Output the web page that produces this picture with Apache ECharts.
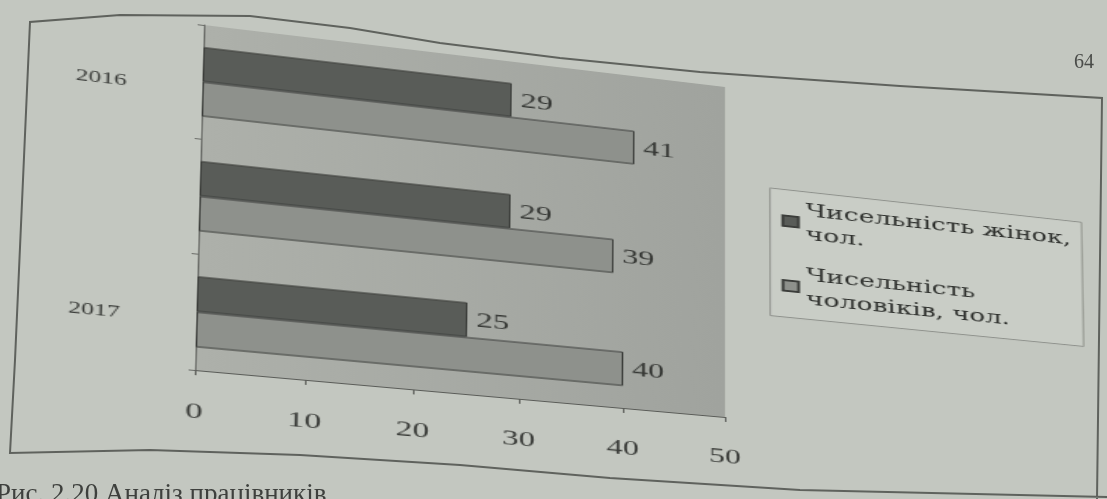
<!DOCTYPE html>
<html>
<head>
<meta charset="utf-8">
<script src="https://cdn.jsdelivr.net/npm/echarts@6/dist/echarts.min.js"></script>
<style>
  html, body { margin: 0; padding: 0; width: 1107px; height: 499px; overflow: hidden; background: #c3c7c0; }
  #page, #chart { position: absolute; left: 0; top: 0; width: 1107px; height: 499px; }
  #chart { transform-origin: 0 0; }
</style>
</head>
<body>
<div id="page"></div>
<div id="chart"></div>
<script>
// ---- data ----
const categories = ['2016', '', '2017'];
const women = [29, 29, 25];
const men = [41, 39, 40];
const seriesNames = ['Чисельність жінок, чол.', 'Чисельність чоловіків, чол.'];
const legendText = {
  'Чисельність жінок, чол.': 'Чисельність жінок,\nчол.',
  'Чисельність чоловіків, чол.': 'Чисельність\nчоловіків, чол.'
};
const axisMin = 0, axisMax = 50, axisStep = 10;
const pageNumber = '64';
const caption = 'Рис. 2.20 Аналіз працівників';

const SERIF = "'Liberation Serif', 'DejaVu Serif', serif";
const WIDE_SERIF = "'DejaVu Serif', 'Liberation Serif', serif";

// ---- flat layout of the plot and where it lands on the tilted page ----
const G = { left: 200, top: 40, width: 350, height: 345 };
const flatQuad = [[G.left, G.top], [G.left + G.width, G.top],
                  [G.left + G.width, G.top + G.height], [G.left, G.top + G.height]];
const pageQuad = [[204, 25], [725, 87], [725, 417], [195, 370]];

function solve(A, b) {
  const n = b.length;
  for (let i = 0; i < n; i++) {
    let p = i;
    for (let r = i + 1; r < n; r++) if (Math.abs(A[r][i]) > Math.abs(A[p][i])) p = r;
    [A[i], A[p]] = [A[p], A[i]]; [b[i], b[p]] = [b[p], b[i]];
    for (let r = i + 1; r < n; r++) {
      const f = A[r][i] / A[i][i];
      for (let c = i; c < n; c++) A[r][c] -= f * A[i][c];
      b[r] -= f * b[i];
    }
  }
  const x = new Array(n).fill(0);
  for (let i = n - 1; i >= 0; i--) {
    let s = b[i];
    for (let c = i + 1; c < n; c++) s -= A[i][c] * x[c];
    x[i] = s / A[i][i];
  }
  return x;
}
function homography(src, dst) {
  const A = [], b = [];
  for (let i = 0; i < 4; i++) {
    const [x, y] = src[i], [X, Y] = dst[i];
    A.push([x, y, 1, 0, 0, 0, -x * X, -y * X]); b.push(X);
    A.push([0, 0, 0, x, y, 1, -x * Y, -y * Y]); b.push(Y);
  }
  const h = solve(A, b);
  return [[h[0], h[1], h[2]], [h[3], h[4], h[5]], [h[6], h[7], 1]];
}
function invert3(m) {
  const [a, b, c] = m[0], [d, e, f] = m[1], [g, h, i] = m[2];
  const A = e * i - f * h, B = -(d * i - f * g), C = d * h - e * g;
  const det = a * A + b * B + c * C;
  return [[A / det, -(b * i - c * h) / det, (b * f - c * e) / det],
          [B / det, (a * i - c * g) / det, -(a * f - c * d) / det],
          [C / det, -(a * h - b * g) / det, (a * e - b * d) / det]];
}
function apply(m, x, y) {
  const w = m[2][0] * x + m[2][1] * y + m[2][2];
  return [(m[0][0] * x + m[0][1] * y + m[0][2]) / w, (m[1][0] * x + m[1][1] * y + m[1][2]) / w];
}

const H = homography(flatQuad, pageQuad);
const chartEl = document.getElementById('chart');
chartEl.style.transform = 'matrix3d(' + [
  H[0][0], H[1][0], 0, H[2][0],
  H[0][1], H[1][1], 0, H[2][1],
  0, 0, 1, 0,
  H[0][2], H[1][2], 0, H[2][2]
].join(',') + ')';
const Hinv = invert3(H);
const legendPos = apply(Hinv, 770, 188);

// ---- page: frame of the figure, page number, caption ----
const page = echarts.init(document.getElementById('page'));
page.setOption({
  backgroundColor: 'transparent',
  graphic: [
    {
      type: 'polyline',
      shape: {
        points: [[1097, 499], [1102, 98], [900, 86], [700, 72], [560, 58], [440, 43],
                 [350, 28], [250, 16], [120, 15], [30, 22], [15, 360], [10, 453],
                 [150, 450], [300, 455], [460, 465], [610, 478], [800, 490], [1107, 497]]
      },
      style: { stroke: '#5f625d', lineWidth: 2, fill: null }
    },
    {
      type: 'text', left: 1074, top: 53,
      style: { text: pageNumber, font: '20px ' + SERIF, fill: '#4a4c49' }
    },
    {
      type: 'text', left: -4, top: 481,
      style: { text: caption, font: '27px ' + SERIF, fill: '#3e403d' }
    }
  ]
});

// ---- chart ----
const chart = echarts.init(chartEl);
chart.setOption({
  backgroundColor: 'transparent',
  animation: false,
  grid: {
    left: G.left, top: G.top, width: G.width, height: G.height,
    show: true, borderWidth: 0,
    backgroundColor: new echarts.graphic.LinearGradient(0, 0, 1, 0, [
      { offset: 0, color: '#adb0aa' }, { offset: 1, color: '#a0a39e' }
    ])
  },
  legend: {
    orient: 'vertical',
    left: legendPos[0], top: legendPos[1],
    data: seriesNames,
    icon: 'rect', itemWidth: 11, itemHeight: 11, itemGap: 18,
    padding: [8, 8, 8, 8],
    backgroundColor: '#c9cdc6', borderColor: '#8c8f8a', borderWidth: 1,
    formatter: name => legendText[name],
    textStyle: { fontFamily: WIDE_SERIF, fontSize: 19, lineHeight: 25, color: '#2e302d' }
  },
  xAxis: {
    type: 'value', min: axisMin, max: axisMax, interval: axisStep,
    axisLine: { show: true, lineStyle: { color: '#5a5c58', width: 1 } },
    axisTick: { show: true, length: 5, lineStyle: { color: '#5a5c58' } },
    splitLine: { show: false },
    axisLabel: { margin: 30, fontFamily: SERIF, fontSize: 22, color: '#3a3c39' }
  },
  yAxis: {
    type: 'category', data: categories, inverse: true,
    axisLine: { show: true, lineStyle: { color: '#6a6c68', width: 1 } },
    axisTick: { show: true, length: 4, lineStyle: { color: '#6a6c68' } },
    axisLabel: { margin: 48, verticalAlign: 'top', fontFamily: SERIF, fontSize: 16, color: '#3a3c39' }
  },
  series: [
    {
      name: seriesNames[0], type: 'bar', data: women,
      barGap: '0%', barCategoryGap: '39%',
      itemStyle: { color: '#595c58', borderColor: '#3b3d3a', borderWidth: 1 },
      label: { show: true, position: 'right', distance: 6, fontFamily: SERIF, fontSize: 22, color: '#353734' }
    },
    {
      name: seriesNames[1], type: 'bar', data: men,
      barGap: '0%', barCategoryGap: '39%',
      itemStyle: { color: '#8e918c', borderColor: '#3b3d3a', borderWidth: 1 },
      label: { show: true, position: 'right', distance: 6, fontFamily: SERIF, fontSize: 22, color: '#353734' }
    }
  ]
});
</script>
</body>
</html>
